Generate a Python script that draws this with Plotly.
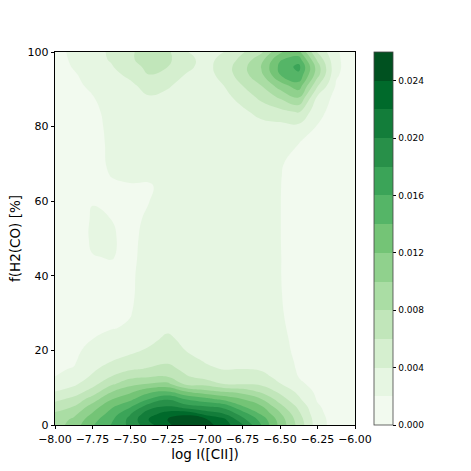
"""Filled density contours of f(H2(CO)) against log I([CII])."""
import numpy as np
import plotly.graph_objects as go

log_cii = [-8.0, -7.875, -7.75, -7.625, -7.5, -7.375, -7.25, -7.125, -7.0,
           -6.875, -6.75, -6.625, -6.5, -6.375, -6.25, -6.125, -6.0]
f_h2co = [0, 1.5, 3, 5, 7, 9, 11, 13, 15, 17, 20, 23, 26, 30, 35, 40, 45, 50,
          55, 60, 64, 67, 70, 75, 80, 84, 88, 91, 94, 96, 98, 100]

# density in units of 1e-3, one list per log_cii column
density_cols = [
    [9.0, 8.8, 8.3, 7.0, 5.4, 4.0, 3.0, 2.0, 1.8, 1.6, 1.4, 1.2, 1.1, 1.0, 1.0, 1.0, 1.0, 1.0, 1.0, 1.0, 1.0, 1.0, 1.0, 1.0, 1.0, 1.0, 1.0, 1.1, 1.2, 1.3, 1.3, 1.4],
    [10.9, 10.4, 9.4, 8.0, 6.5, 4.9, 3.6, 2.7, 2.1, 1.8, 1.5, 1.3, 1.2, 1.1, 1.1, 1.1, 1.2, 1.2, 1.2, 1.1, 1.1, 1.1, 1.1, 1.2, 1.3, 1.4, 1.6, 1.7, 1.85, 2.1, 2.3, 2.4],
    [13.8, 13.2, 12.2, 10.8, 8.9, 6.8, 5.3, 4.3, 3.6, 3.2, 2.7, 2.0, 1.8, 1.6, 1.4, 1.6, 1.95, 2.2, 2.15, 1.95, 1.6, 1.5, 1.5, 1.5, 1.6, 1.7, 1.95, 2.25, 2.6, 3.0, 3.2, 3.3],
    [16.1, 15.6, 14.8, 13.6, 11.8, 9.8, 7.6, 6.0, 5.0, 4.0, 3.4, 2.6, 1.9, 1.7, 1.6, 1.7, 2.05, 2.1, 2.0, 1.7, 1.8, 2.05, 2.2, 2.25, 2.3, 2.4, 2.7, 3.0, 3.5, 3.8, 4.2, 4.3],
    [18.5, 18.6, 17.8, 15.6, 13.4, 11.5, 9.3, 7.4, 5.7, 4.5, 3.7, 3.0, 2.2, 1.9, 1.8, 1.8, 1.75, 1.75, 1.75, 1.7, 1.9, 2.25, 2.4, 2.5, 2.6, 2.8, 3.1, 3.6, 4.4, 5.3, 5.8, 5.8],
    [21.3, 22.1, 21.2, 19.0, 15.9, 13.4, 10.1, 7.8, 6.2, 5.3, 4.2, 3.6, 3.2, 2.9, 2.6, 2.5, 2.4, 2.3, 2.15, 1.98, 1.9, 2.2, 2.5, 2.6, 2.9, 3.2, 3.9, 4.7, 6.0, 6.4, 6.6, 6.6],
    [23.7, 24.0, 22.8, 20.2, 17.7, 14.0, 10.5, 7.9, 6.7, 5.7, 4.9, 4.3, 3.7, 3.4, 3.1, 2.8, 2.7, 2.6, 2.5, 2.4, 2.3, 2.4, 2.6, 2.7, 2.9, 3.2, 3.6, 4.2, 5.2, 6.0, 6.4, 6.4],
    [25.0, 25.6, 23.4, 18.7, 15.8, 11.9, 7.5, 6.2, 5.4, 4.9, 3.95, 3.6, 3.4, 3.2, 3.0, 2.8, 2.7, 2.7, 2.7, 2.6, 2.6, 2.6, 2.6, 2.7, 2.8, 3.0, 3.2, 3.4, 3.9, 4.5, 4.7, 4.1],
    [24.9, 24.3, 21.4, 18.0, 14.6, 10.7, 7.3, 5.2, 4.4, 3.9, 3.5, 3.3, 3.2, 3.1, 2.9, 2.8, 2.8, 2.8, 2.8, 2.8, 2.8, 2.8, 2.8, 2.8, 2.8, 2.9, 3.0, 3.1, 3.2, 3.3, 3.3, 3.2],
    [23.0, 22.5, 20.0, 17.2, 13.3, 9.8, 6.0, 5.0, 3.9, 3.6, 3.3, 3.1, 3.0, 2.9, 2.8, 2.7, 2.7, 2.7, 2.7, 2.7, 2.7, 2.7, 2.7, 2.7, 2.8, 3.0, 3.4, 4.0, 4.7, 4.9, 4.6, 4.0],
    [20.2, 18.6, 17.0, 14.1, 11.9, 9.1, 5.9, 4.9, 4.0, 3.5, 3.2, 3.0, 2.9, 2.8, 2.7, 2.6, 2.6, 2.6, 2.6, 2.6, 2.6, 2.6, 2.6, 2.7, 3.0, 3.6, 4.8, 6.0, 7.2, 7.3, 6.6, 5.8],
    [16.0, 15.3, 13.7, 12.2, 10.0, 7.6, 5.6, 4.6, 3.8, 3.4, 3.0, 2.8, 2.7, 2.6, 2.5, 2.4, 2.4, 2.4, 2.4, 2.4, 2.4, 2.4, 2.5, 2.7, 3.3, 4.7, 6.6, 8.0, 9.6, 10.1, 9.3, 7.6],
    [11.4, 11.1, 10.3, 8.6, 7.0, 5.5, 4.1, 3.4, 3.0, 2.7, 2.4, 2.3, 2.2, 2.1, 2.05, 2.03, 2.03, 2.02, 2.02, 2.02, 2.03, 2.05, 2.1, 2.4, 3.4, 5.4, 8.4, 11.0, 14.0, 14.5, 13.8, 11.9],
    [7.3, 7.0, 6.4, 5.5, 4.3, 3.5, 2.4, 1.95, 1.8, 1.75, 1.7, 1.65, 1.6, 1.6, 1.6, 1.6, 1.6, 1.6, 1.6, 1.6, 1.55, 1.55, 1.6, 1.95, 3.5, 6.2, 10.2, 13.2, 15.6, 16.6, 15.0, 12.6],
    [2.9, 2.8, 2.5, 2.2, 1.8, 1.5, 1.3, 1.2, 1.15, 1.1, 1.1, 1.1, 1.1, 1.1, 1.1, 1.1, 1.1, 1.1, 1.1, 1.1, 1.1, 1.15, 1.2, 1.3, 1.9, 2.5, 3.8, 6.2, 8.8, 9.0, 7.6, 5.8],
    [1.1, 1.1, 1.1, 1.0, 1.0, 1.0, 1.0, 1.0, 1.0, 1.0, 1.0, 1.0, 1.0, 1.0, 1.0, 1.0, 1.0, 1.0, 1.0, 1.0, 1.0, 1.0, 1.0, 1.0, 1.1, 1.3, 1.3, 1.8, 2.2, 2.35, 2.3, 2.2],
    [0.9, 0.9, 0.9, 0.9, 0.9, 0.9, 0.9, 0.9, 0.9, 0.9, 0.9, 0.9, 0.9, 0.9, 0.9, 0.9, 0.9, 0.9, 0.9, 0.9, 0.9, 0.9, 0.9, 0.9, 0.9, 0.9, 0.9, 0.9, 1.0, 1.0, 1.0, 1.0],
]

band_colors = ["#f2faef", "#e6f6e2", "#d5efcf", "#c1e6ba", "#aadda4", "#90d18d", "#74c476",
               "#55b567", "#3ba458", "#289049", "#137d3a", "#006a2b", "#005120"]

z = np.array(density_cols).T / 1000.0

# stepped colorscale so every band gets exactly one colour
n = len(band_colors)
colorscale = []
for i, col in enumerate(band_colors):
    colorscale.append([i / n, col])
    colorscale.append([(i + 1) / n, col])

fig = go.Figure()
fig.add_trace(go.Contour(
    x=log_cii, y=f_h2co, z=z,
    zmin=0, zmax=0.026,
    colorscale=colorscale,
    contours=dict(start=0, end=0.026, size=0.002, coloring="fill"),
    line=dict(width=0, smoothing=1.3),
    colorbar=dict(
        thickness=19, thicknessmode="pixels",
        len=1, lenmode="fraction",
        x=1.0633, xanchor="left", xpad=0, ypad=0,
        y=0.5, yanchor="middle",
        tick0=0, dtick=0.004, tickformat=".3f",
        ticks="outside", ticklen=3.5, tickwidth=0.8, tickcolor="black",
        tickfont=dict(size=9, color="black"),
        outlinewidth=0.8, outlinecolor="#444444",
    ),
))

axis_style = dict(showgrid=False, zeroline=False, showline=True, mirror=True,
                  linecolor="black", linewidth=0.8, ticks="outside", ticklen=3.5,
                  tickwidth=0.8, tickcolor="black", tickfont=dict(size=11, color="black"))
fig.update_xaxes(range=[-8, -6], tick0=-8, dtick=0.25, tickformat=".2f",
                 title=dict(text="log I([CII])", font=dict(size=13.5, color="black"), standoff=0),
                 **axis_style)
fig.update_yaxes(range=[0, 100], tick0=0, dtick=20,
                 title=dict(text="f(H2(CO) [%]", font=dict(size=13.5, color="black"), standoff=3),
                 **axis_style)
fig.update_layout(
    width=471, height=471, autosize=False,
    margin=dict(l=54.5, r=115.5, t=51.5, b=45.5, pad=0),
    paper_bgcolor="white", plot_bgcolor="white",
    font=dict(family="DejaVu Sans", color="black"),
)
fig.write_html("out.html", config={"displayModeBar": False},
               post_script="document.body.style.margin='0';")
